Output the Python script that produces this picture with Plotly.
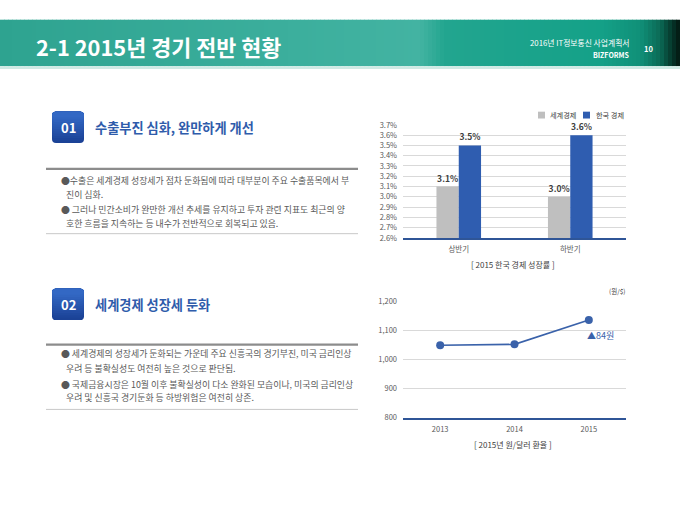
import plotly.graph_objects as go

W, H = 680, 510
FONT = "Noto Sans CJK KR"

# ---------------- data ----------------
bar_categories = ["상반기", "하반기"]
world_growth = [3.1, 3.0]
korea_growth = [3.5, 3.6]
series_names = ["세계경제", "한국 경제"]

rate_years = ["2013", "2014", "2015"]
won_per_dollar = [1050, 1053, 1137]
rate_change_label = "▲84원"
rate_change_value = 1084
rate_unit = "(원/$)"

bar_caption = "[ 2015 한국 경제 성장률 ]"
line_caption = "[ 2015년 원/달러 환율 ]"

title_text = "2-1 2015년 경기 전반 현황"
doc_title = "2016년 IT정보통신 사업계획서"
brand = "BIZFORMS"
page_no = "10"

section_numbers = ["01", "02"]
section_headings = ["수출부진 심화, 완만하게 개선", "세계경제 성장세 둔화"]
section_lines = [
    ["●수출은 세계경제 성장세가 점차 둔화됨에 따라 대부분이 주요 수출품목에서 부",
     "진이 심화.",
     "● 그러나 민간소비가 완만한 개선 추세를 유지하고 투자 관련 지표도 최근의 양",
     "호한 흐름을 지속하는 등 내수가 전반적으로 회복되고 있음."],
    ["● 세계경제의 성장세가 둔화되는 가운데 주요 신흥국의 경기부진, 미국 금리인상",
     "우려 등 불확실성도 여전히 높은 것으로 판단됨.",
     "● 국제금융시장은 10월 이후 불확실성이 다소 완화된 모습이나, 미국의 금리인상",
     "우려 및 신흥국 경기둔화 등 하방위험은 여전히 상존."],
]

# ---------------- helpers ----------------
def px(x):
    return x / W

def py(y):
    return 1 - y / H

def hex2rgb(h):
    h = h.lstrip("#")
    return tuple(int(h[i:i + 2], 16) for i in (0, 2, 4))

def lerp_color(stops, t):
    for (t0, c0), (t1, c1) in zip(stops, stops[1:]):
        if t0 <= t <= t1:
            f = 0 if t1 == t0 else (t - t0) / (t1 - t0)
            a, b = hex2rgb(c0), hex2rgb(c1)
            return "rgb(%d,%d,%d)" % tuple(round(a[i] + (b[i] - a[i]) * f) for i in range(3))
    return stops[-1][1]

BLUE = "#2f5db0"
GRAY = "#bfbfbf"
TXT = "#595959"

fig = go.Figure()

# ---------------- bar chart ----------------
fig.add_trace(go.Bar(
    x=bar_categories, y=world_growth, name=series_names[0],
    marker=dict(color=GRAY, line=dict(width=0)),
    texttemplate="<b>%{y:.1f}%</b>", textposition="outside",
    textfont=dict(size=8.5, color="#404040", family=FONT),
    constraintext="none", cliponaxis=False, showlegend=False,
    xaxis="x", yaxis="y"))
fig.add_trace(go.Bar(
    x=bar_categories, y=korea_growth, name=series_names[1],
    marker=dict(color=BLUE, line=dict(width=0)),
    texttemplate="<b>%{y:.1f}%</b>", textposition="outside",
    textfont=dict(size=8.5, color="#404040", family=FONT),
    constraintext="none", cliponaxis=False, showlegend=False,
    xaxis="x", yaxis="y"))

# ---------------- line chart ----------------
fig.add_trace(go.Scatter(
    x=rate_years, y=won_per_dollar, mode="lines+markers",
    line=dict(color="#3a62aa", width=1.6),
    marker=dict(color="#3a62aa", size=8),
    showlegend=False, xaxis="x2", yaxis="y2", cliponaxis=False))

axis_common = dict(showgrid=True, gridcolor="#d9d9d9", gridwidth=0.8, zeroline=False,
                   ticks="", tickfont=dict(size=7.5, color=TXT, family=FONT), fixedrange=True)

fig.update_layout(
    width=W, height=H, margin=dict(l=0, r=0, t=0, b=0),
    paper_bgcolor="white", plot_bgcolor="white",
    font=dict(family=FONT),
    barmode="group", bargap=0.6, bargroupgap=0,
    xaxis=dict(domain=[px(403), px(626)], anchor="y", type="category",
               showgrid=False, zeroline=False, showline=True, linecolor="#2f5597", linewidth=2,
               ticks="", tickfont=dict(size=7.5, color=TXT, family=FONT), ticklabelstandoff=3),
    yaxis=dict(domain=[py(237), py(121.5)], anchor="x", range=[2.6, 3.7], dtick=0.1,
               tickformat=".1f", ticksuffix="%", ticklabelstandoff=5, **axis_common),
    xaxis2=dict(domain=[px(403), px(626)], anchor="y2", type="category",
                range=[-0.5, 2.5],
                showgrid=False, zeroline=False, showline=True, linecolor="#2f5597", linewidth=2,
                ticks="", tickfont=dict(size=7.5, color=TXT, family=FONT), ticklabelstandoff=3),
    yaxis2=dict(domain=[py(420.7), py(302.3)], anchor="x2", range=[800, 1200], dtick=100,
                tickformat=",", ticklabelstandoff=5, **axis_common),
)

shapes = []
annotations = []

# ---------------- header band (gradient strips) ----------------
band_stops = [(0, "#2ea390"), (300, "#3caf9d"), (420, "#43b3a2"), (445, "#22a58f"),
              (600, "#14a188"), (640, "#109078"), (660, "#0b6a56"), (672, "#06372b"), (680, "#03150f")]
step = 4
for x0 in range(0, W, step):
    shapes.append(dict(type="rect", xref="paper", yref="paper",
                       x0=px(x0), x1=px(min(x0 + step + 0.6, W)), y0=py(61.5), y1=py(14),
                       fillcolor=lerp_color(band_stops, x0 + step / 2), line=dict(width=0), layer="below"))
shapes.append(dict(type="rect", xref="paper", yref="paper", x0=0, x1=1, y0=py(64.5), y1=py(61.5),
                   fillcolor="#cfeae4", line=dict(width=0), layer="below"))

annotations.append(dict(text="<b>" + title_text + "</b>", x=px(34), y=py(41), xref="paper", yref="paper",
                        xanchor="left", yanchor="middle", showarrow=False,
                        font=dict(size=21.8, color="white", family=FONT)))
annotations.append(dict(text=doc_title, x=px(632), y=py(37), xref="paper", yref="paper",
                        xanchor="right", yanchor="middle", showarrow=False,
                        font=dict(size=7.8, color="white", family=FONT)))
annotations.append(dict(text="<b>" + brand + "</b>", x=px(632), y=py(50), xref="paper", yref="paper",
                        xanchor="right", yanchor="middle", showarrow=False,
                        font=dict(size=7, color="white", family=FONT)))
annotations.append(dict(text="<b>" + page_no + "</b>", x=px(648), y=py(43), xref="paper", yref="paper",
                        xanchor="center", yanchor="middle", showarrow=False,
                        font=dict(size=7.5, color="white", family=FONT)))

# ---------------- sections ----------------
def rounded_rect(x0, y0, x1, y1, r):
    X0, X1 = px(x0), px(x1)
    Y0, Y1 = py(y0), py(y1)  # Y0 top (larger), Y1 bottom
    rx, ry = r / W, r / H
    return ("M %f,%f L %f,%f Q %f,%f %f,%f L %f,%f Q %f,%f %f,%f L %f,%f Q %f,%f %f,%f "
            "L %f,%f Q %f,%f %f,%f Z" % (
                X0 + rx, Y0, X1 - rx, Y0, X1, Y0, X1, Y0 - ry, X1, Y1 + ry, X1, Y1, X1 - rx, Y1,
                X0 + rx, Y1, X0, Y1, X0, Y1 + ry, X0, Y0 - ry, X0, Y0, X0 + rx, Y0))

section_tops = [108, 289]
line_ys = [166.5, 346]
text_ys = [[178.5, 193, 208.3, 222.7], [355.5, 370.5, 386.5, 400.5]]
bottom_ys = [232.7, 412.3]
badge_stops = [(0, "#1b4296"), (1, "#3368c4")]

for s in range(2):
    top = section_tops[s]
    n = 12
    for i in range(n):
        h = 32 - i * (32 - 6) / (n - 1) if i else 32
        shapes.append(dict(type="path", xref="paper", yref="paper",
                           path=rounded_rect(52, top, 84, top + h, 4),
                           fillcolor=lerp_color(badge_stops, i / (n - 1)), line=dict(width=0)))
    annotations.append(dict(text="<b>" + section_numbers[s] + "</b>", x=px(68), y=py(top + 16.5),
                            xref="paper", yref="paper", xanchor="center", yanchor="middle",
                            showarrow=False, font=dict(size=13, color="white", family=FONT)))
    annotations.append(dict(text="<b>" + section_headings[s] + "</b>", x=px(92.5), y=py(top + 16),
                            xref="paper", yref="paper", xanchor="left", yanchor="middle",
                            showarrow=False, font=dict(size=13.2, color="#2f5cab", family=FONT)))
    shapes.append(dict(type="line", xref="paper", yref="paper", x0=px(46), x1=px(358),
                       y0=py(line_ys[s]), y1=py(line_ys[s]), line=dict(color="#8c8c8c", width=2.2)))
    shapes.append(dict(type="line", xref="paper", yref="paper", x0=px(46), x1=px(358),
                       y0=py(bottom_ys[s]), y1=py(bottom_ys[s]), line=dict(color="#c8c8c8", width=1)))
    for j, txt in enumerate(section_lines[s]):
        xs = 59 if txt.startswith("●") else 64
        annotations.append(dict(text=txt, x=px(xs), y=py(text_ys[s][j]), xref="paper", yref="paper",
                                xanchor="left", yanchor="middle", showarrow=False,
                                font=dict(size=8.9, color=TXT, family=FONT)))

# ---------------- chart legend / captions ----------------
legend_items = [(GRAY, series_names[0], 538, 548), (BLUE, series_names[1], 583, 594)]
for col, name, bx, tx in legend_items:
    shapes.append(dict(type="rect", xref="paper", yref="paper", x0=px(bx), x1=px(bx + 7),
                       y0=py(115), y1=py(108), fillcolor=col, line=dict(width=0)))
    annotations.append(dict(text=name, x=px(tx), y=py(111.5), xref="paper", yref="paper",
                            xanchor="left", yanchor="middle", showarrow=False,
                            font=dict(size=7.2, color="#404040", family=FONT)))

annotations.append(dict(text=bar_caption, x=px(513), y=py(264), xref="paper", yref="paper",
                        xanchor="center", yanchor="middle", showarrow=False,
                        font=dict(size=8, color="#404040", family=FONT)))
annotations.append(dict(text=line_caption, x=px(513), y=py(448), xref="paper", yref="paper",
                        xanchor="center", yanchor="middle", showarrow=False,
                        font=dict(size=8, color="#404040", family=FONT)))
annotations.append(dict(text=rate_unit, x=px(617), y=py(291.5), xref="paper", yref="paper",
                        xanchor="center", yanchor="middle", showarrow=False,
                        font=dict(size=6.5, color="#404040", family=FONT)))
annotations.append(dict(text=rate_change_label, x=rate_years.index("2015"), y=rate_change_value,
                        xref="x2", yref="y2",
                        xanchor="left", yanchor="middle", xshift=-4, showarrow=False,
                        font=dict(size=9, color="#3a62aa", family=FONT)))

fig.update_layout(shapes=shapes, annotations=annotations)
fig.write_html("out.html", config={"displayModeBar": False},
               post_script="document.body.style.margin='0px';document.body.style.overflow='hidden';")
